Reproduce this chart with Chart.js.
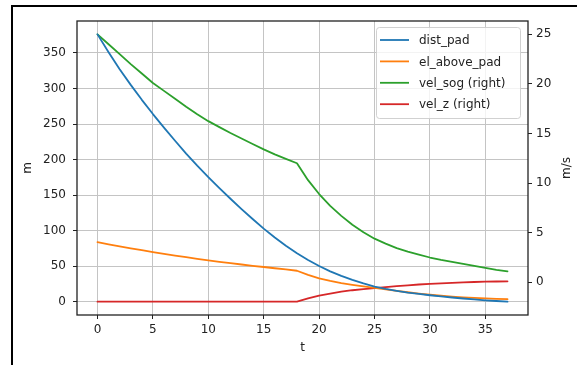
<!DOCTYPE html>
<html>
<head>
<meta charset="utf-8">
<script src="https://cdn.jsdelivr.net/npm/chart.js@4/dist/chart.umd.min.js"></script>
<style>
  html, body { margin: 0; padding: 0; background: #fff; overflow: hidden; }
  canvas { display: block; }
</style>
</head>
<body>
<canvas id="c" width="577" height="365"></canvas>
<script>
// Time samples (s)
const tValues = [0, 1, 2, 3, 4, 5, 6, 7, 8, 9, 10, 11, 12, 13, 14, 15, 16, 17, 18, 19,
                 20, 21, 22, 23, 24, 25, 26, 27, 28, 29, 30, 31, 32, 33, 34, 35, 36, 37];

// Left axis series (m)
const distPad = [376, 351, 327, 305, 284, 264, 245, 226.5, 208.5, 191.5,
                 175.5, 160, 145, 130.5, 116.5, 103, 90.5, 79, 68.5, 59,
                 50.5, 43, 36.5, 31, 26, 21.5, 18.3, 15.6, 13.2, 11.2,
                 9.4, 7.7, 6.2, 4.8, 3.5, 2.3, 1.3, 0.4];
const elAbovePad = [84, 81, 78.2, 75.4, 72.7, 70, 67.6, 65.2, 62.8, 60.5,
                    58.3, 56.3, 54.4, 52.6, 50.8, 49.1, 47.3, 45.6, 43.8, 38,
                    33, 29.5, 26.5, 24, 21.7, 19.6, 17.5, 15.5, 13.6, 11.8,
                    10.1, 8.7, 7.5, 6.5, 5.7, 5.0, 4.4, 3.9];

// Right axis series (m/s)
const velSog = [25, 24.0, 23.0, 22.0, 21.05, 20.1, 19.3, 18.5, 17.7, 16.95,
                16.25, 15.65, 15.05, 14.5, 13.95, 13.4, 12.9, 12.45, 12.0, 10.3,
                8.9, 7.7, 6.7, 5.8, 5.05, 4.4, 3.9, 3.45, 3.1, 2.8,
                2.5, 2.25, 2.05, 1.85, 1.65, 1.45, 1.25, 1.1];
const velZ = [-1.95, -1.95, -1.95, -1.95, -1.95, -1.95, -1.95, -1.95, -1.95, -1.95,
              -1.95, -1.95, -1.95, -1.95, -1.95, -1.95, -1.95, -1.95, -1.95, -1.62,
              -1.35, -1.15, -0.95, -0.8, -0.68, -0.58, -0.48, -0.38, -0.3, -0.22,
              -0.16, -0.1, -0.05, 0, 0.03, 0.06, 0.08, 0.1];

// Tick labels
const xTicks = [0, 5, 10, 15, 20, 25, 30, 35];
const leftTicks = [0, 50, 100, 150, 200, 250, 300, 350];
const rightTicks = [0, 5, 10, 15, 20, 25];

const seriesNames = ['dist_pad', 'el_above_pad', 'vel_sog (right)', 'vel_z (right)'];
const seriesColors = ['#1f77b4', '#ff7f0e', '#2ca02c', '#d62728'];

// Axis limits with 5% margins around the data
function padded(arrays) {
  const all = [].concat(...arrays);
  const lo = Math.min(...all), hi = Math.max(...all);
  const m = (hi - lo) * 0.05;
  return [lo - m, hi + m];
}
const [xMin, xMax] = padded([tValues]);
const [yMin, yMax] = padded([distPad, elAbovePad]);
const [y2Min, y2Max] = padded([velSog, velZ]);

const toPoints = arr => arr.map((v, i) => ({ x: tValues[i], y: v }));

const FONT = 'DejaVu Sans';
const TEXT = '#222';
const GRID = '#c4c4c4';

const fixedTicks = list => scale => { scale.ticks = list.map(v => ({ value: v })); };

const decorations = {
  id: 'decorations',
  beforeDraw(chart) {
    const ctx = chart.ctx;
    ctx.save();
    ctx.fillStyle = '#fff';
    ctx.fillRect(0, 0, chart.width, chart.height);
    // figure frame
    ctx.strokeStyle = '#000';
    ctx.lineWidth = 2;
    ctx.beginPath();
    ctx.moveTo(12, chart.height);
    ctx.lineTo(12, 6);
    ctx.lineTo(chart.width, 6);
    ctx.stroke();
    ctx.restore();
  },
  afterDatasetsDraw(chart) {
    const ctx = chart.ctx;
    const a = chart.chartArea;
    ctx.save();
    // axes frame
    ctx.strokeStyle = '#222';
    ctx.lineWidth = 1.3;
    ctx.strokeRect(a.left, a.top, a.right - a.left, a.bottom - a.top);

    // legend
    const bx = 376, by = 27, bw = 144, bh = 91;
    ctx.fillStyle = 'rgba(255,255,255,0.8)';
    ctx.strokeStyle = 'rgba(204,204,204,0.9)';
    ctx.lineWidth = 1;
    ctx.beginPath();
    ctx.roundRect(bx + 0.5, by + 0.5, bw, bh, 3);
    ctx.fill();
    ctx.stroke();
    ctx.font = '12px "' + FONT + '"';
    ctx.textBaseline = 'middle';
    ctx.textAlign = 'left';
    chart.data.datasets.forEach((ds, i) => {
      const y = 40 + 21.4 * i;
      ctx.strokeStyle = ds.borderColor;
      ctx.lineWidth = 1.8;
      ctx.beginPath();
      ctx.moveTo(380, y);
      ctx.lineTo(409, y);
      ctx.stroke();
      ctx.fillStyle = TEXT;
      ctx.fillText(ds.label, 419, y + 1);
    });

    // right axis title, reading bottom to top
    ctx.translate(567, (a.top + a.bottom) / 2);
    ctx.rotate(-Math.PI / 2);
    ctx.textAlign = 'center';
    ctx.fillStyle = TEXT;
    ctx.fillText('m/s', 0, 0);
    ctx.restore();
  }
};

new Chart(document.getElementById('c'), {
  type: 'line',
  data: {
    datasets: [
      { label: seriesNames[0], data: toPoints(distPad), borderColor: seriesColors[0], yAxisID: 'y' },
      { label: seriesNames[1], data: toPoints(elAbovePad), borderColor: seriesColors[1], yAxisID: 'y' },
      { label: seriesNames[2], data: toPoints(velSog), borderColor: seriesColors[2], yAxisID: 'y2' },
      { label: seriesNames[3], data: toPoints(velZ), borderColor: seriesColors[3], yAxisID: 'y2' }
    ]
  },
  options: {
    responsive: false,
    animation: false,
    devicePixelRatio: 1,
    layout: { padding: { top: 21, left: 0, right: 0, bottom: 0 } },
    elements: {
      point: { radius: 0 },
      line: { borderWidth: 1.8, tension: 0, fill: false, borderJoinStyle: 'round', borderCapStyle: 'round' }
    },
    plugins: { legend: { display: false }, tooltip: { enabled: false } },
    scales: {
      x: {
        type: 'linear', position: 'bottom', min: xMin, max: xMax,
        afterBuildTicks: fixedTicks(xTicks),
        afterFit: s => { s.height = 50; },
        grid: { color: GRID, lineWidth: 1, tickColor: TEXT, tickLength: 4 },
        border: { display: false },
        ticks: { color: TEXT, font: { family: FONT, size: 12 }, padding: 4, maxRotation: 0 },
        title: { display: true, text: 't', color: TEXT, font: { family: FONT, size: 12 }, padding: { top: 0, bottom: 10 } }
      },
      y: {
        type: 'linear', position: 'left', min: yMin, max: yMax,
        afterBuildTicks: fixedTicks(leftTicks),
        afterFit: s => { s.width = 77; },
        grid: { color: GRID, lineWidth: 1, tickColor: TEXT, tickLength: 4 },
        border: { display: false },
        ticks: { color: TEXT, font: { family: FONT, size: 12 }, padding: 7 },
        title: { display: true, text: 'm', color: TEXT, font: { family: FONT, size: 12 }, padding: { top: 21, bottom: 0 } }
      },
      y2: {
        type: 'linear', position: 'right', min: y2Min, max: y2Max,
        afterBuildTicks: fixedTicks(rightTicks),
        afterFit: s => { s.width = 49; },
        grid: { drawOnChartArea: false, color: GRID, tickColor: TEXT, tickLength: 4 },
        border: { display: false },
        ticks: { color: TEXT, font: { family: FONT, size: 12 }, padding: 4 }
      }
    }
  },
  plugins: [decorations]
});
</script>
</body>
</html>
